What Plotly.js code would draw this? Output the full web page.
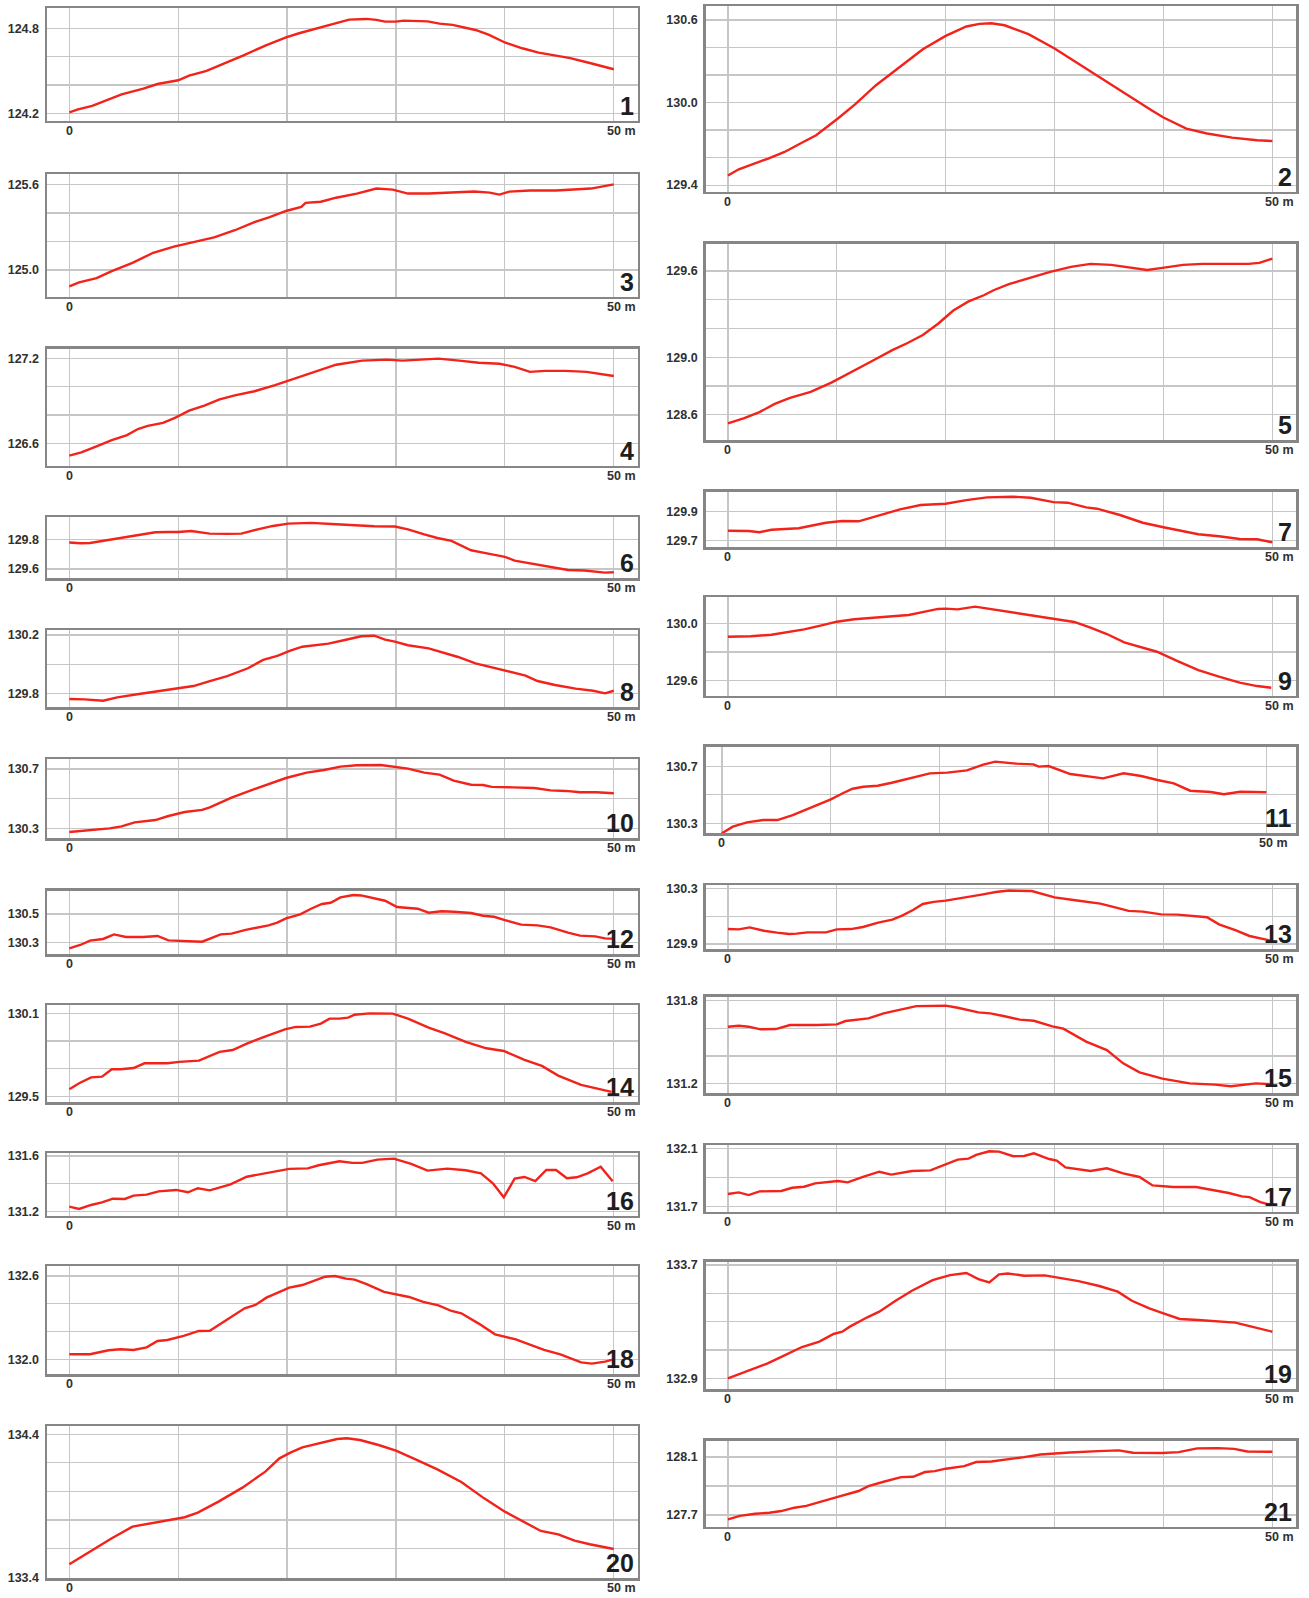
<!DOCTYPE html>
<html>
<head>
<meta charset="utf-8">
<script src="https://cdn.plot.ly/plotly-3.0.1.min.js"></script>
<style>
html,body{margin:0;padding:0;background:#ffffff;}
#chart{width:1309px;height:1598px;}
</style>
</head>
<body>
<div id="chart"></div>
<script>
// ---------------- DATA (distance in m, elevation in m) ----------------
const panelNumbers = ['1','2','3','4','5','6','7','8','9','10','11','12','13','14','15','16','17','18','19','20','21'];

const x1 = [0,0.8,2.1,3.7,4.8,6.8,8.1,10,11,12.6,14.1,16,18,19.9,21.1,23,24.6,25.7,27.3,28.2,29,30,30.7,32.9,34,35.2,36.2,37.3,38.5,40,41.6,43.1,44.7,46,47.8,50];
const y1 = [124.207,124.228,124.252,124.30,124.334,124.374,124.407,124.433,124.466,124.499,124.546,124.609,124.678,124.736,124.765,124.807,124.838,124.861,124.866,124.859,124.847,124.847,124.854,124.849,124.833,124.824,124.805,124.788,124.755,124.70,124.659,124.628,124.607,124.59,124.555,124.511];

const x2 = [0,1,3.7,5.2,6.7,8.1,10.1,11.7,13.6,15.5,17.9,20,21.9,23.1,24.2,25.4,27.6,30,33,35.3,37.5,38.9,40,42.1,44,46.3,48.6,50];
const y2 = [129.47,129.515,129.593,129.641,129.704,129.762,129.884,129.988,130.126,130.242,130.388,130.485,130.553,130.572,130.577,130.562,130.497,130.393,130.242,130.126,130.01,129.944,129.891,129.811,129.775,129.745,129.726,129.721];

const x3 = [0,0.9,2.5,3.9,5.8,7.7,9.6,11.4,13.3,15.2,17,18.4,19.9,21.3,21.7,23.1,24.5,26.4,28.2,29.7,31.1,33,34.8,37.2,38.6,39.5,40.4,42.3,44.7,46.1,47.9,50];
const y3 = [124.886,124.914,124.943,124.993,125.05,125.121,125.164,125.193,125.229,125.279,125.336,125.371,125.414,125.443,125.471,125.479,125.507,125.536,125.571,125.564,125.536,125.536,125.543,125.55,125.543,125.529,125.55,125.557,125.557,125.564,125.571,125.6];

const x4 = [0,1.1,2.5,3.9,5.3,6.3,7.2,8.6,9.7,11,12.4,13.8,15.2,17,18.9,20.8,22.7,24.5,26.9,29.2,30.6,32,33.9,35.8,37.6,39.5,40.9,42.3,43.7,45.6,47.5,50];
const y4 = [126.513,126.535,126.578,126.622,126.658,126.701,126.723,126.744,126.78,126.831,126.867,126.911,126.94,126.969,127.012,127.063,127.113,127.157,127.186,127.193,127.186,127.193,127.2,127.186,127.171,127.164,127.142,127.106,127.113,127.113,127.106,127.077];

const x5 = [0,1.5,2.9,4.3,5.7,7.6,9.5,11.3,13.2,15.1,16.5,17.9,19.3,20.7,22.1,23.5,24.4,25.8,27.7,29.6,31.5,33.3,35.2,37.1,38.5,39.9,41.8,43.6,45.5,47.8,48.8,50];
const y5 = [128.541,128.577,128.619,128.676,128.718,128.76,128.824,128.894,128.972,129.05,129.099,129.155,129.233,129.325,129.388,129.431,129.466,129.508,129.551,129.593,129.628,129.649,129.642,129.621,129.607,129.621,129.642,129.649,129.649,129.649,129.656,129.685];

const x6 = [0,1,1.9,3.3,4.8,6.4,7.9,9.1,10,11.2,12.9,14.5,15.8,17.6,18.7,20.1,22.2,24.5,26.4,28,29.9,31.1,32.6,33.8,35.1,36.9,38,39.2,40,40.9,42.3,43.8,45.8,47.3,48.5,49.2,50];
const y6 = [129.78,129.775,129.777,129.793,129.811,129.83,129.85,129.852,129.852,129.859,129.841,129.839,129.841,129.875,129.893,129.909,129.914,129.905,129.895,129.891,129.889,129.87,129.836,129.811,129.791,129.727,129.711,129.695,129.682,129.657,129.639,129.616,129.593,129.589,129.58,129.575,129.577];

const x7 = [0,1.9,2.9,4,6.5,7.8,9,10.5,12,13.5,15.8,17.7,20,21.9,23.8,26.1,27.8,29.9,31.2,32.9,33.9,36,38.1,40,41.3,43.2,45.1,47,48.6,50];
const y7 = [129.767,129.765,129.756,129.774,129.784,129.802,129.823,129.835,129.833,129.865,129.916,129.947,129.956,129.981,130.0,130.005,129.998,129.967,129.963,129.93,129.921,129.877,129.823,129.791,129.772,129.742,129.728,129.709,129.707,129.686];

const x8 = [0,1.4,3.1,4.4,6.4,8.3,10,11.4,12.9,14.5,16.4,17.8,19.1,20.3,21.4,22.6,23.8,25.3,26.8,28,29,29.9,31.1,33,34.6,35.7,37.3,39,40.3,41.9,43,44.6,46.5,48.1,49.2,50];
const y8 = [129.764,129.761,129.752,129.775,129.798,129.818,129.836,129.852,129.886,129.92,129.973,130.03,130.057,130.093,130.12,130.132,130.141,130.166,130.191,130.195,130.168,130.155,130.13,130.109,130.075,130.05,130.007,129.977,129.95,129.923,129.886,129.859,129.834,129.82,129.802,129.82];

const x9 = [0,2.1,4,5.5,7,8.6,10,11.6,13.1,15,16.6,18.1,19.3,20,21.1,22.7,24.3,26.1,28,30.3,31.8,33.3,34.8,36.4,37.5,39.4,41.3,43.2,45.1,47,48.6,49.9];
const y9 = [129.908,129.911,129.922,129.939,129.96,129.988,130.014,130.031,130.04,130.047,130.061,130.085,130.104,130.106,130.101,130.12,130.101,130.078,130.054,130.031,130.012,129.972,129.927,129.868,129.845,129.802,129.736,129.673,129.626,129.584,129.56,129.548];

const x10 = [0,2.1,3.7,4.8,6,7.9,9.1,10.6,12.2,12.9,14.9,17.2,19.9,21.8,23.4,24.9,26.4,28.6,29.9,31.1,32.6,34,35.3,36.9,38,38.8,40.7,42.7,44.2,45.6,46.9,48.4,50];
const y10 = [130.275,130.289,130.3,130.313,130.34,130.356,130.383,130.41,130.424,130.442,130.507,130.57,130.639,130.675,130.693,130.716,130.725,130.727,130.716,130.702,130.675,130.662,130.621,130.594,130.592,130.579,130.576,130.572,130.556,130.552,130.543,130.543,130.536];

const x11 = [0,1,2.3,3.8,5.1,6.5,8,10,11.1,12,13,14.3,15.6,17.1,19.1,20.7,22.5,24,25.1,27,28.6,29.1,30,32,33.9,35,36.9,38.5,40,41.5,43,44.9,46.1,47.6,50];
const y11 = [130.23,130.277,130.307,130.323,130.323,130.358,130.405,130.468,130.511,130.543,130.557,130.564,130.585,130.611,130.651,130.656,130.672,130.712,130.733,130.719,130.714,130.698,130.702,130.646,130.627,130.616,130.651,130.632,130.604,130.581,130.529,130.52,130.504,130.522,130.518];

const x12 = [0,1,1.9,3.1,4.1,5.2,6.8,8.1,9.1,10.6,12.2,13.9,14.9,16.1,17.2,18.3,19.1,19.9,21.2,22.2,23.2,24,24.9,26.1,26.8,27.8,29,30.1,30.9,32,33,34.2,35.3,36.9,38,39,40,41.5,43,44.2,45.8,46.9,48.3,49.2,50];
const y12 = [130.26,130.284,130.314,130.326,130.358,130.34,130.34,130.347,130.316,130.314,130.307,130.358,130.363,130.388,130.405,130.421,130.44,130.47,130.498,130.537,130.57,130.579,130.616,130.633,130.63,130.612,130.593,130.549,130.542,130.537,130.509,130.519,130.516,130.507,130.488,130.481,130.458,130.426,130.421,130.407,130.37,130.349,130.344,130.33,130.328];

const x13 = [0,1,2,3.3,4.5,5.6,6.3,7.3,9,10,11.3,12.4,13.8,15.1,16,17,17.9,18.9,20,21.6,23.3,24.6,25.8,27.9,28.8,30,31.9,34.2,35.3,36.8,38.1,39.8,41.3,42.8,44,45.1,46.6,47.9,48.9,50];
const y13 = [130.008,130.006,130.02,129.996,129.982,129.972,129.975,129.984,129.984,130.006,130.008,130.023,130.054,130.076,130.105,130.146,130.189,130.204,130.213,130.237,130.257,130.276,130.286,130.283,130.261,130.237,130.216,130.192,130.17,130.139,130.134,130.114,130.112,130.102,130.093,130.042,130.001,129.958,129.943,129.922];

const x14 = [0,0.9,2,3,3.9,4.7,5.9,6.9,9,10.1,11.9,12.9,13.8,15,16.3,17.9,19.8,20.8,22.1,23.1,23.9,24.8,25.6,26.2,27.6,29.7,31.1,33,34.5,36.4,38.3,39.9,41.8,43.4,44.9,47,48.8,49.8];
const y14 = [129.553,129.596,129.639,129.644,129.697,129.697,129.706,129.74,129.74,129.75,129.759,129.793,129.822,129.836,129.882,129.93,129.985,130.002,130.004,130.026,130.062,130.062,130.069,130.09,130.1,130.098,130.062,129.997,129.956,129.894,129.848,129.829,129.764,129.721,129.651,129.584,129.553,129.534];

const x15 = [0,1,1.9,3,4.4,5.7,8.2,10,10.8,12.9,14.3,15.8,17.3,20,21.1,23,24.1,25.3,26.8,28.1,29.8,30.8,32.9,34.8,36.3,37.8,39.9,42.4,44.7,46.2,48.5,50];
const y15 = [131.612,131.619,131.612,131.593,131.595,131.624,131.624,131.629,131.653,131.672,131.708,131.737,131.761,131.764,131.749,131.716,131.708,131.689,131.663,131.655,131.614,131.598,131.504,131.443,131.347,131.282,131.236,131.202,131.193,131.181,131.202,131.195];

const x16 = [0,0.9,2,3,4,5.1,5.9,7.1,8.2,9.8,10.9,11.8,12.9,14.8,16.3,17.9,20.2,21.9,22.9,24.8,26,26.9,28.3,29.8,31.4,32.9,34.7,36.4,37.8,38.9,39.9,40.9,41.8,42.8,43.8,44.7,45.7,46.6,47.6,48.8,49.9];
const y16 = [131.236,131.219,131.248,131.267,131.293,131.291,131.315,131.322,131.346,131.356,131.339,131.368,131.353,131.396,131.451,131.475,131.507,131.511,131.533,131.562,131.55,131.55,131.574,131.581,131.543,131.495,131.509,131.497,131.475,131.404,131.303,131.437,131.449,131.42,131.499,131.499,131.44,131.447,131.475,131.523,131.418];

const x17 = [0,1,1.9,2.9,4.9,5.9,7,8,10.1,11,12.4,13.9,15,16.9,18.6,20,21.1,22.1,22.8,24,24.9,26.2,27.2,28.1,29.5,30.2,31,33.3,34.8,36.3,37.8,39,40.9,43,44.7,46,47.2,47.9,48.9,49.9];
const y17 = [131.787,131.798,131.78,131.805,131.808,131.83,131.837,131.86,131.876,131.867,131.904,131.94,131.92,131.945,131.949,131.991,132.023,132.03,132.055,132.08,132.078,132.046,132.048,132.066,132.027,132.016,131.97,131.945,131.963,131.929,131.904,131.846,131.835,131.835,131.81,131.794,131.771,131.766,131.732,131.711];

const x18 = [0,1.9,3.6,4.7,5.9,7.1,8.1,9,10.5,11.9,12.9,14.6,16.1,17.1,18.1,19,20.2,21.4,22.3,23.5,24.4,25.4,26.2,27.3,28.9,30,31.2,32.5,33.9,35.1,36,37.6,39.1,41,42.2,43.6,45.1,47,48,49.2,49.9];
const y18 = [132.036,132.036,132.065,132.072,132.067,132.086,132.132,132.139,132.168,132.204,132.206,132.29,132.367,132.391,132.444,132.475,132.516,132.535,132.559,132.595,132.6,132.581,132.574,132.542,132.485,132.47,132.449,132.413,132.389,132.348,132.331,132.257,132.18,132.144,132.108,132.067,132.036,131.978,131.969,131.983,131.998];

const x19 = [0,1.9,3.6,5.1,6.8,8.4,9.7,10.5,11.2,12.8,13.9,15.4,16.9,18.8,20.4,21.9,23,24,24.9,25.7,27.2,29.1,30.8,32.2,34.1,35.8,37.1,38.7,40,41.5,43.2,45.1,46.6,48.1,50];
const y19 = [132.9,132.956,133.004,133.058,133.121,133.159,133.213,133.229,133.265,133.331,133.371,133.448,133.519,133.594,133.629,133.644,133.601,133.578,133.634,133.641,133.625,133.627,133.606,133.587,133.552,133.512,133.448,133.394,133.359,133.319,133.312,133.3,133.293,133.265,133.229];

const x20 = [0,1.9,3.9,5.8,7.9,10,10.6,11.8,13.7,15.9,18,19.3,20.3,21.4,23.4,24.6,25.5,26.7,28.4,30,31.9,33.8,36,38.1,40,41.4,43.3,44.9,46.4,47.8,50];
const y20 = [133.491,133.579,133.673,133.754,133.785,133.813,133.82,133.852,133.929,134.027,134.139,134.232,134.272,134.309,134.346,134.367,134.372,134.36,134.325,134.286,134.221,134.155,134.067,133.952,133.859,133.801,133.724,133.7,133.656,133.631,133.598];

const x21 = [0,1.1,2.5,3.8,4.9,6.1,7.2,8.6,10,12,12.9,14.3,15.9,17,18.1,19,20,21.7,22.8,24.2,25.7,27.2,28.7,30,31.4,34,35.9,37.2,39.9,41.4,43.1,45,46.5,47.7,50];
const y21 = [127.67,127.695,127.709,127.716,127.728,127.751,127.764,127.792,127.824,127.866,127.9,127.93,127.962,127.964,127.997,128.003,128.02,128.038,128.066,128.07,128.084,128.1,128.118,128.125,128.132,128.141,128.146,128.13,128.128,128.134,128.16,128.162,128.157,128.139,128.137];

// labelled elevation ticks per panel
const yTickLabels = [
  ['124.2','124.8'], ['129.4','130.0','130.6'], ['125.0','125.6'], ['126.6','127.2'],
  ['128.6','129.0','129.6'], ['129.6','129.8'], ['129.7','129.9'], ['129.8','130.2'],
  ['129.6','130.0'], ['130.3','130.7'], ['130.3','130.7'], ['130.3','130.5'],
  ['129.9','130.3'], ['129.5','130.1'], ['131.2','131.8'], ['131.2','131.6'],
  ['131.7','132.1'], ['132.0','132.6'], ['132.9','133.7'], ['133.4','134.4'], ['127.7','128.1']
];
const xTickLabels = ['0', '50 m'];

const seriesX = [x1,x2,x3,x4,x5,x6,x7,x8,x9,x10,x11,x12,x13,x14,x15,x16,x17,x18,x19,x20,x21];
const seriesY = [y1,y2,y3,y4,y5,y6,y7,y8,y9,y10,y11,y12,y13,y14,y15,y16,y17,y18,y19,y20,y21];

// ---------------- LAYOUT (frame positions in px, axis ranges) ----------------
const W = 1309, H = 1598;
const cols = { L: [47.0, 637.7], R: [705.6, 1296.3] };
const frames = [
  {c:'L', t:8.3,    b:120.7,  yr:[124.148,124.941]},
  {c:'R', t:6.0,    b:191.7,  yr:[129.352,130.702]},
  {c:'L', t:174.3,  b:296.6,  yr:[124.814,125.671]},
  {c:'L', t:348.5,  b:465.7,  yr:[126.441,127.272]},
  {c:'R', t:243.6,  b:440.3,  yr:[128.423,129.790]},
  {c:'L', t:517.3,  b:578.3,  yr:[129.536,129.952]},
  {c:'R', t:491.7,  b:547.3,  yr:[129.651,130.040]},
  {c:'L', t:630.0,  b:707.3,  yr:[129.707,130.234]},
  {c:'R', t:597.3,  b:695.7,  yr:[129.492,130.186]},
  {c:'L', t:759.3,  b:838.3,  yr:[130.233,130.765]},
  {c:'R', t:746.7,  b:833.3,  yr:[130.230,130.838], xr:[-1.5,52.75]},
  {c:'L', t:890.7,  b:954.0,  yr:[130.221,130.663]},
  {c:'R', t:885.3,  b:949.0,  yr:[129.864,130.324]},
  {c:'L', t:1005.0, b:1102.3, yr:[129.459,130.160]},
  {c:'R', t:996.7,  b:1093.3, yr:[131.130,131.829]},
  {c:'L', t:1153.3, b:1215.7, yr:[131.171,131.619]},
  {c:'R', t:1145.0, b:1211.7, yr:[131.666,132.123]},
  {c:'L', t:1266.0, b:1374.0, yr:[131.894,132.672]},
  {c:'R', t:1261.7, b:1389.3, yr:[132.822,133.724]},
  {c:'L', t:1426.0, b:1578.0, yr:[133.395,134.458]},
  {c:'R', t:1440.7, b:1526.7, yr:[127.620,128.213]}
];
const defaultXRange = [-2.05, 52.2];

const LINE_RED = '#f2231a';
const GRID = '#c6c6c6';
const FRAME = '#868686';
const LABEL_FONT = {family:'"Liberation Sans", Arial, sans-serif', size:12.5, color:'#303030', weight:'bold'};
const NUM_FONT = {family:'"Liberation Sans", Arial, sans-serif', size:25, color:'#1e1e1e', weight:'bold'};

function gridVals(labels, r){
  const base = Math.min(...labels.map(Number));
  const out = [];
  for(let k=-20;k<=20;k++){
    const v = Math.round((base + 0.2*k)*10)/10;
    if(v >= r[0]-1e-9 && v <= r[1]+1e-9) out.push(v);
  }
  return out.sort((a,b)=>a-b);
}

const traces = [];
const layout = {
  width: W, height: H,
  margin: {l:0, r:0, t:0, b:0, pad:0},
  paper_bgcolor: '#ffffff',
  plot_bgcolor: '#ffffff',
  showlegend: false,
  annotations: []
};

for(let i=0;i<21;i++){
  const s = i===0 ? '' : String(i+1);
  const f = frames[i];
  const xr = f.xr || defaultXRange;
  traces.push({
    type:'scatter', mode:'lines',
    x: seriesX[i], y: seriesY[i],
    xaxis:'x'+s, yaxis:'y'+s,
    line:{color:LINE_RED, width:2.4},
    hoverinfo:'skip'
  });
  const gv = gridVals(yTickLabels[i], f.yr);
  layout['xaxis'+s] = {
    domain:[cols[f.c][0]/W, cols[f.c][1]/W],
    range: xr,
    anchor:'y'+s,
    tickvals:[0,10,20,30,40,50],
    showticklabels:false,
    ticks:'',
    showgrid:true, gridcolor:GRID, gridwidth:1.2,
    zeroline:false,
    showline:true, mirror:true, linecolor:FRAME, linewidth:2.5,
    fixedrange:true
  };
  layout['yaxis'+s] = {
    domain:[1 - f.b/H, 1 - f.t/H],
    range: f.yr,
    anchor:'x'+s,
    tickvals: gv,
    ticktext: gv.map(v => yTickLabels[i].includes(v.toFixed(1)) ? v.toFixed(1) : ''),
    ticks:'',
    ticklabelstandoff: 3,
    tickfont: LABEL_FONT,
    showgrid:true, gridcolor:GRID, gridwidth:1.2,
    zeroline:false,
    showline:true, mirror:true, linecolor:FRAME, linewidth:2.5,
    fixedrange:true
  };
  // x labels "0" and "50 m"
  layout.annotations.push({
    xref:'x'+s, yref:'y'+s+' domain', x:0, y:0,
    xanchor:'center', yanchor:'top', yshift:-1,
    text:xTickLabels[0], showarrow:false, font:LABEL_FONT
  });
  layout.annotations.push({
    xref:'x'+s, yref:'y'+s+' domain', x:50, y:0,
    xanchor:'left', yanchor:'top', yshift:-1, xshift:-9,
    text:xTickLabels[1], showarrow:false, font:LABEL_FONT
  });
  // panel number
  layout.annotations.push({
    xref:'x'+s+' domain', yref:'y'+s+' domain', x:1, y:0,
    xanchor:'right', yanchor:'bottom', xshift:-2, yshift:-1,
    text:panelNumbers[i], showarrow:false, font:NUM_FONT
  });
}

Plotly.newPlot('chart', traces, layout, {displayModeBar:false, staticPlot:true});
</script>
</body>
</html>
